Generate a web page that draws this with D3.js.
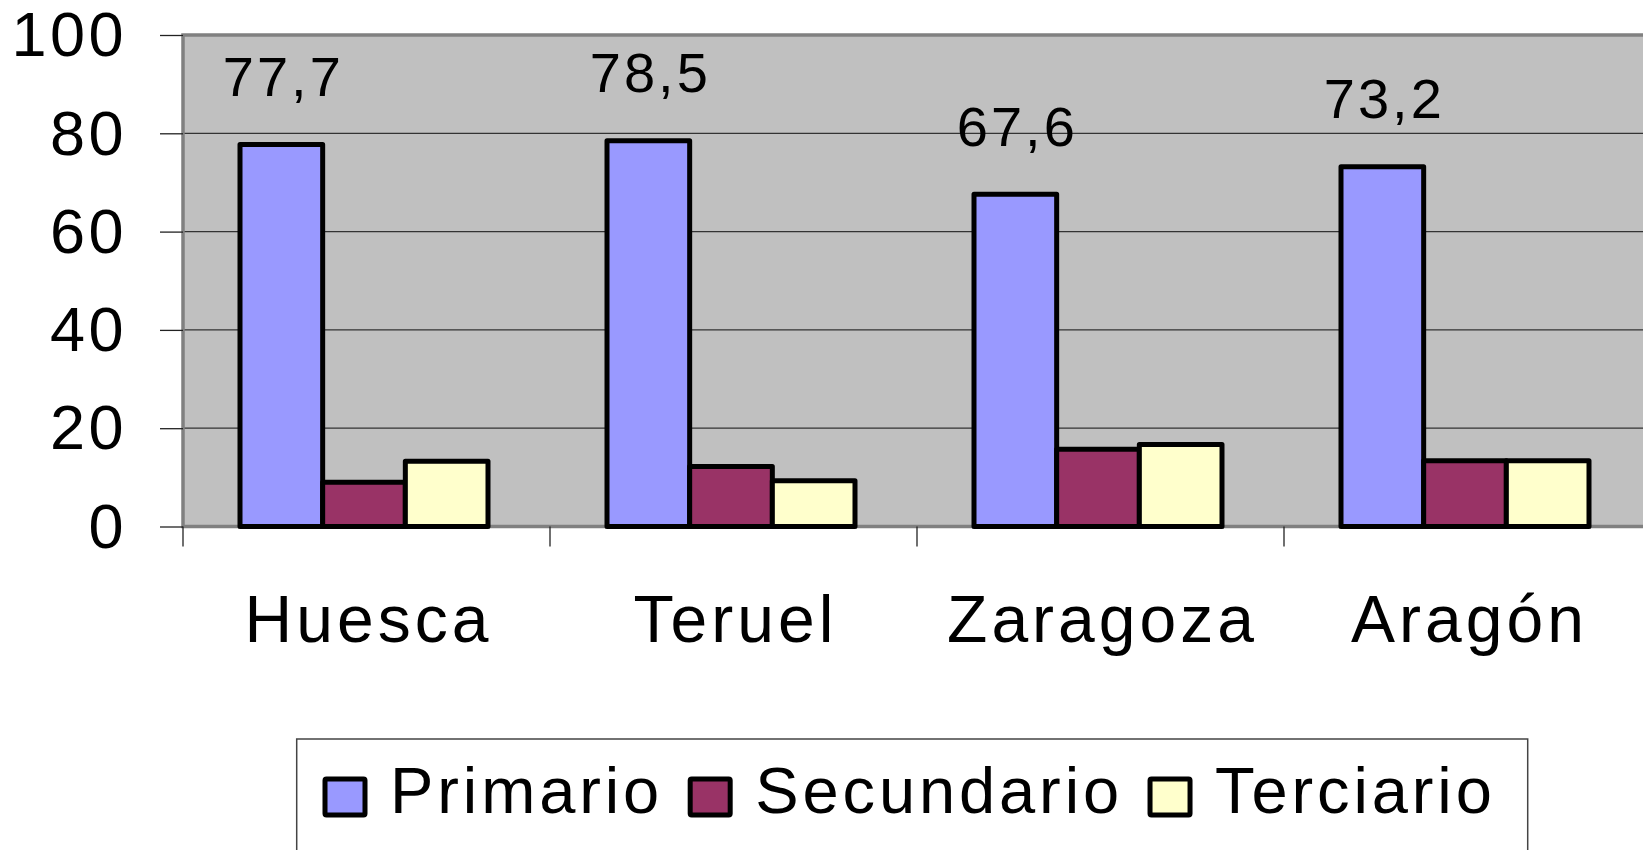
<!DOCTYPE html>
<html>
<head>
<meta charset="utf-8">
<script src="https://cdn.jsdelivr.net/npm/d3@7"></script>
<style>
  html, body { margin: 0; padding: 0; background: #fff; overflow: hidden; }
  text { font-family: "Liberation Sans", Arial, sans-serif; fill: #000; }
</style>
</head>
<body>
<svg width="1643" height="850"></svg>
<script>
// data
const categories = ['Huesca', 'Teruel', 'Zaragoza', 'Aragón'];
const seriesNames = ['Primario', 'Secundario', 'Terciario'];
const primario = [77.7, 78.5, 67.6, 73.2];
const secundario = [9.0, 12.2, 15.7, 13.4];
const terciario = [13.3, 9.3, 16.7, 13.4];
const seriesColors = ['#9999FF', '#993366', '#FFFFCC'];
const yTicks = [0, 20, 40, 60, 80, 100];

const svg = d3.select('svg');
const plot = { left: 183, right: 1651, top: 35, bottom: 526.5 };

const y = d3.scaleLinear().domain([0, 100]).range([plot.bottom, plot.top]);
const x0 = d3.scaleBand().domain(categories).range([plot.left, plot.right]).padding(0);
const x1 = d3.scaleBand().domain(seriesNames).range([57, 57 + 248]).padding(0);
const color = d3.scaleOrdinal().domain(seriesNames).range(seriesColors);

const rows = categories.map((c, i) => ({
  cat: c,
  values: [primario[i], secundario[i], terciario[i]]
}));

// plot background
svg.append('rect')
  .attr('x', plot.left).attr('y', plot.top)
  .attr('width', plot.right - plot.left).attr('height', plot.bottom - plot.top)
  .attr('fill', '#C0C0C0');

// gridlines
svg.append('g')
  .selectAll('line')
  .data(yTicks.filter(t => t > 0 && t < 100))
  .enter().append('line')
    .attr('x1', plot.left).attr('x2', plot.right)
    .attr('y1', d => y(d)).attr('y2', d => y(d))
    .attr('stroke', '#333').attr('stroke-width', 1.3);

// plot border (top, left, bottom)
svg.append('path')
  .attr('d', `M${plot.right},${plot.top}H${plot.left}V${plot.bottom}H${plot.right}`)
  .attr('fill', 'none').attr('stroke', '#808080').attr('stroke-width', 3.5);

// y axis
const yAxis = svg.append('g')
  .attr('transform', `translate(${plot.left},0)`)
  .call(d3.axisLeft(y).tickValues(yTicks).tickSize(23).tickPadding(33));
yAxis.select('.domain').remove();
yAxis.selectAll('.tick line').attr('stroke', '#222').attr('stroke-width', 1.3);
yAxis.selectAll('.tick text')
  .attr('font-size', 63).attr('letter-spacing', 3.5)
  .attr('dy', '0.33em')
  .style('font-family', '"Liberation Sans", Arial, sans-serif');

// x axis boundary ticks
svg.append('g')
  .selectAll('line')
  .data(categories.map(c => x0(c)))
  .enter().append('line')
    .attr('x1', d => d).attr('x2', d => d)
    .attr('y1', plot.bottom).attr('y2', plot.bottom + 20)
    .attr('stroke', '#222').attr('stroke-width', 1.3);

// x labels
svg.append('g')
  .selectAll('text')
  .data(categories)
  .enter().append('text')
    .attr('x', d => x0(d) + x0.bandwidth() / 2 + 2)
    .attr('y', 641.7)
    .attr('text-anchor', 'middle')
    .attr('font-size', 66).attr('letter-spacing', 4)
    .text(d => d);

// bars
const groups = svg.append('g')
  .selectAll('g')
  .data(rows)
  .enter().append('g')
    .attr('transform', d => `translate(${x0(d.cat)},0)`);

groups.selectAll('rect')
  .data(d => d.values.map((v, i) => ({ key: seriesNames[i], value: v })))
  .enter().append('rect')
    .attr('x', d => x1(d.key))
    .attr('width', x1.bandwidth())
    .attr('y', d => y(d.value))
    .attr('height', d => y(0) - y(d.value))
    .attr('fill', d => color(d.key))
    .attr('stroke', '#000').attr('stroke-width', 5)
    .attr('stroke-linejoin', 'round');

// data labels above the Primario bars
groups.append('text')
  .attr('x', d => x1('Primario') + x1.bandwidth() / 2 + 2)
  .attr('y', d => y(d.values[0]) - 48.5)
  .attr('text-anchor', 'middle')
  .attr('font-size', 56).attr('letter-spacing', 3)
  .text(d => d.values[0].toFixed(1).replace('.', ','));

// legend
const legend = svg.append('g');
legend.append('rect')
  .attr('x', 296.7).attr('y', 739)
  .attr('width', 1527.7 - 296.7).attr('height', 200)
  .attr('fill', '#fff').attr('stroke', '#444').attr('stroke-width', 1.5);

let lx = 325;
seriesNames.forEach((name, i) => {
  legend.append('rect')
    .attr('x', lx).attr('y', 779)
    .attr('width', 40).attr('height', 36)
    .attr('fill', color(name))
    .attr('stroke', '#000').attr('stroke-width', 5)
    .attr('rx', 1.5);
  const t = legend.append('text')
    .attr('x', lx + 65).attr('y', 813.3)
    .attr('font-size', 65).attr('letter-spacing', 3.9)
    .text(name);
  lx = lx + 65 + t.node().getComputedTextLength() + 27;
});
</script>
</body>
</html>
